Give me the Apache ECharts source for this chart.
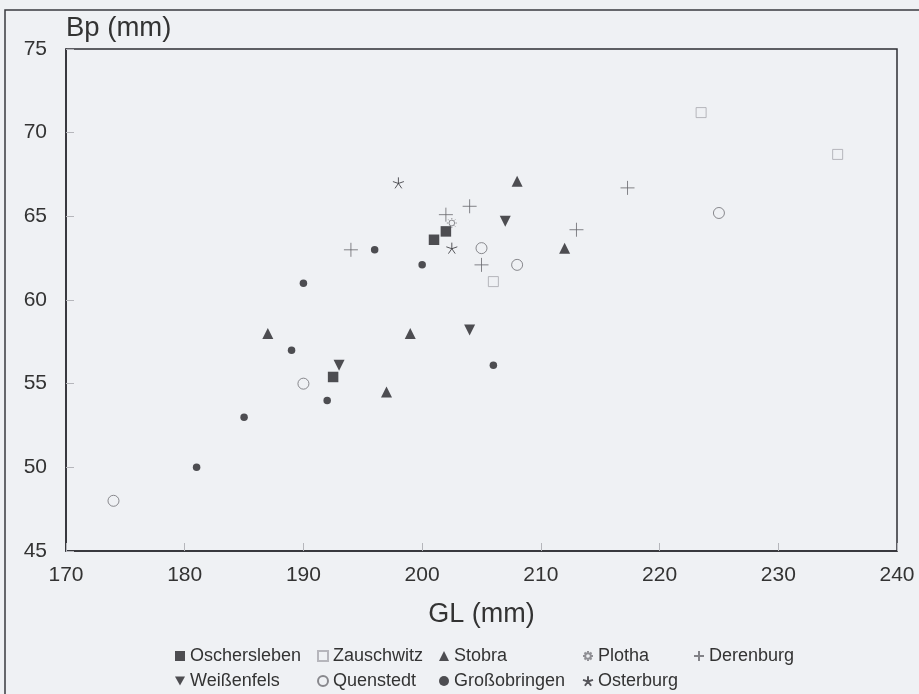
<!DOCTYPE html>
<html>
<head>
<meta charset="utf-8">
<script src="https://cdn.jsdelivr.net/npm/echarts@6/dist/echarts.min.js"></script>
<style>
html,body{margin:0;padding:0;background:#eff1f4;}
#c{width:919px;height:694px;}
</style>
</head>
<body>
<div id="c"></div>
<script>
// ---- data (GL mm, Bp mm) ----
var seriesNames = ['Oschersleben','Zauschwitz','Stobra','Plotha','Derenburg','Weißenfels','Quenstedt','Großobringen','Osterburg'];
var oschersleben = [[201,63.6],[202,64.1],[192.5,55.4]];
var zauschwitz   = [[223.5,71.2],[235,68.7],[206,61.1]];
var stobra       = [[208,67.1],[212,63.1],[187,58],[199,58],[197,54.5]];
var plotha       = [[202.5,64.6]];
var derenburg    = [[194,63],[202,65.1],[204,65.6],[205,62.1],[213,64.2],[217.3,66.7]];
var weissenfels  = [[207,64.7],[193,56.1],[204,58.2]];
var quenstedt    = [[225,65.2],[205,63.1],[208,62.1],[190,55],[174,48]];
var grossobringen= [[196,63],[200,62.1],[190,61],[189,57],[192,54],[185,53],[181,50],[206,56.1]];
var osterburg    = [[198,67],[202.5,63.1]];
var xTicks = [170,180,190,200,210,220,230,240];
var yTicks = [45,50,55,60,65,70,75];

// ---- styles ----
var FONT = "'Liberation Sans', Arial, sans-serif";
var DARK = '#242428';
var SUN = 'path://M6,2.6 A3.4,3.4 0 1,1 5.99,2.6 Z M6,0 L6,1.6 M6,10.4 L6,12 M0,6 L1.6,6 M10.4,6 L12,6 M1.8,1.8 L3,3 M9,9 L10.2,10.2 M10.2,1.8 L9,3 M1.8,10.2 L3,9';
var PLUS = 'path://M0,5 L10,5 M5,0 L5,10';
var STAR = 'path://M5,5 L5,0 M5,5 L9.76,3.45 M5,5 L7.94,9.05 M5,5 L2.06,9.05 M5,5 L0.24,3.45';
var INVTRI = 'path://M0,0 L10,0 L5,9 Z';

var defs = [
  {data: oschersleben, symbol:'rect', size:10.5, style:{color:DARK}},
  {data: zauschwitz, symbol:'rect', size:10, style:{color:'transparent', borderColor:'#a8a8ae', borderWidth:1}},
  {data: stobra, symbol:'triangle', size:11, style:{color:DARK}},
  {data: plotha, symbol:SUN, size:10, style:{color:'transparent', borderColor:'#77777c', borderWidth:1}},
  {data: derenburg, symbol:PLUS, size:14, style:{color:'transparent', borderColor:'#66666b', borderWidth:1}},
  {data: weissenfels, symbol:INVTRI, size:11, style:{color:DARK}},
  {data: quenstedt, symbol:'circle', size:11, style:{color:'transparent', borderColor:'#6e6e73', borderWidth:1}},
  {data: grossobringen, symbol:'circle', size:7.5, style:{color:DARK}},
  {data: osterburg, symbol:STAR, size:11, style:{color:'transparent', borderColor:'#303034', borderWidth:1}}
];

var series = defs.map(function(d, i){
  return {
    name: seriesNames[i], type:'scatter', data:d.data,
    symbol:d.symbol, symbolSize:d.size, itemStyle:d.style,
    silent:true, animation:false
  };
});

// legend layout: [text-left x, row center y]
var legendPos = [
  [190,657],[332,657],[454,657],[597,657],[708,657],
  [190,682],[332,682],[454,682],[597,682]
];
var legends = seriesNames.map(function(n, i){
  return {
    data:[n], left: legendPos[i][0]-15, top: legendPos[i][1]-10,
    padding:0, itemWidth:10, itemHeight:10, itemGap:5,
    selectedMode:false,
    textStyle:{fontFamily:FONT, fontSize:18, color:'#333'}
  };
});

var chart = echarts.init(document.getElementById('c'), null, {renderer:'canvas'});
chart.setOption({
  backgroundColor:'#eff1f4',
  animation:false,
  textStyle:{fontFamily:FONT},
  grid:{left:66, top:49, right:22, bottom:143, show:true, borderColor:'#2e2e33', borderWidth:1.5, backgroundColor:'transparent'},
  graphic:[{
    type:'rect', shape:{x:5, y:10, width:930, height:700},
    style:{fill:'none', stroke:'#3a3a3f', lineWidth:1.5}, silent:true
  }],
  legend: legends,
  xAxis:{
    type:'value', min:xTicks[0], max:xTicks[xTicks.length-1], interval:10,
    name:'GL (mm)', nameLocation:'middle', nameGap:64,
    nameTextStyle:{fontFamily:FONT, fontSize:27, color:'#333', verticalAlign:'middle'},
    axisLine:{show:true, lineStyle:{color:'#2e2e33', width:1.5}},
    axisTick:{show:true, inside:true, length:8, lineStyle:{color:'#b5b6bb'}},
    axisLabel:{fontFamily:FONT, fontSize:21, color:'#333', margin:14},
    splitLine:{show:false}
  },
  yAxis:{
    type:'value', min:yTicks[0], max:yTicks[yTicks.length-1], interval:5,
    name:'Bp (mm)', nameLocation:'end', nameGap:21,
    nameTextStyle:{fontFamily:FONT, fontSize:27.5, color:'#333', align:'left', verticalAlign:'middle'},
    axisLine:{show:true, lineStyle:{color:'#2e2e33', width:1.5}},
    axisTick:{show:true, inside:true, length:8, lineStyle:{color:'#b5b6bb'}},
    axisLabel:{fontFamily:FONT, fontSize:21, color:'#333', margin:19},
    splitLine:{show:false}
  },
  series: series
});
</script>
</body>
</html>
